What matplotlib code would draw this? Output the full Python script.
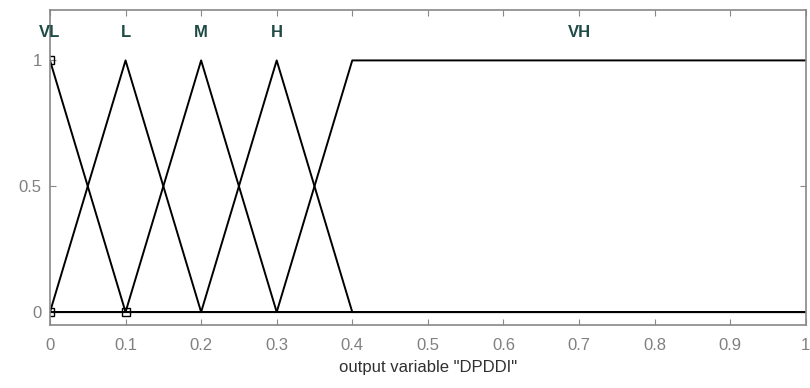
import numpy as np
import matplotlib.pyplot as plt

plt.rcParams['font.family'] = ['Liberation Sans', 'DejaVu Sans']

names = ['VL', 'L', 'M', 'H', 'VH']
# membership function break points (x, y)
mf_x = [[0, 0, 0.1, 1], [0, 0.1, 0.2, 1], [0, 0.1, 0.2, 0.3, 1],
        [0, 0.2, 0.3, 0.4, 1], [0, 0.3, 0.4, 1]]
mf_y = [[1, 1, 0, 0], [0, 1, 0, 0], [0, 0, 1, 0, 0],
        [0, 0, 1, 0, 0], [0, 0, 1, 1]]
label_x = [0, 0.1, 0.2, 0.3, 0.7]
xticks = [0, 0.1, 0.2, 0.3, 0.4, 0.5, 0.6, 0.7, 0.8, 0.9, 1]
xtick_labels = ['0', '0.1', '0.2', '0.3', '0.4', '0.5', '0.6', '0.7', '0.8', '0.9', '1']

fig = plt.figure(figsize=(8.1, 3.88), dpi=100)
ax = fig.add_axes([0.0617, 0.162, 0.933, 0.812])

for mx, my in zip(mf_x, mf_y):
    ax.plot(mx, my, color='black', lw=1.4)

ax.plot([0, 0, 0.1], [1, 0, 0], ls='none', marker='s', ms=6,
        mfc='none', mec='black', mew=1)

for n, lx in zip(names, label_x):
    ax.text(lx, 1.11, n, ha='center', va='center', color='#1f4a45',
            fontsize=12, fontweight='semibold')

ax.set_xlim(0, 1)
ax.set_ylim(-0.052, 1.2)
ax.set_xticks(xticks)
ax.set_xticklabels(xtick_labels)
ax.set_yticks([0, 0.5, 1])
ax.set_yticklabels(['0', '0.5', '1'])
ax.tick_params(direction='in', length=4, color='#888888', labelcolor='#808080',
               labelsize=12, top=True, right=True)
ax.tick_params(axis='x', pad=9)
ax.tick_params(axis='y', pad=6)
for s in ax.spines.values():
    s.set_color('#888888')
    s.set_linewidth(1.2)
ax.set_xlabel('output variable "DPDDI"', fontsize=12, color='#303030', labelpad=5)

fig.savefig('out.png', dpi=100)
